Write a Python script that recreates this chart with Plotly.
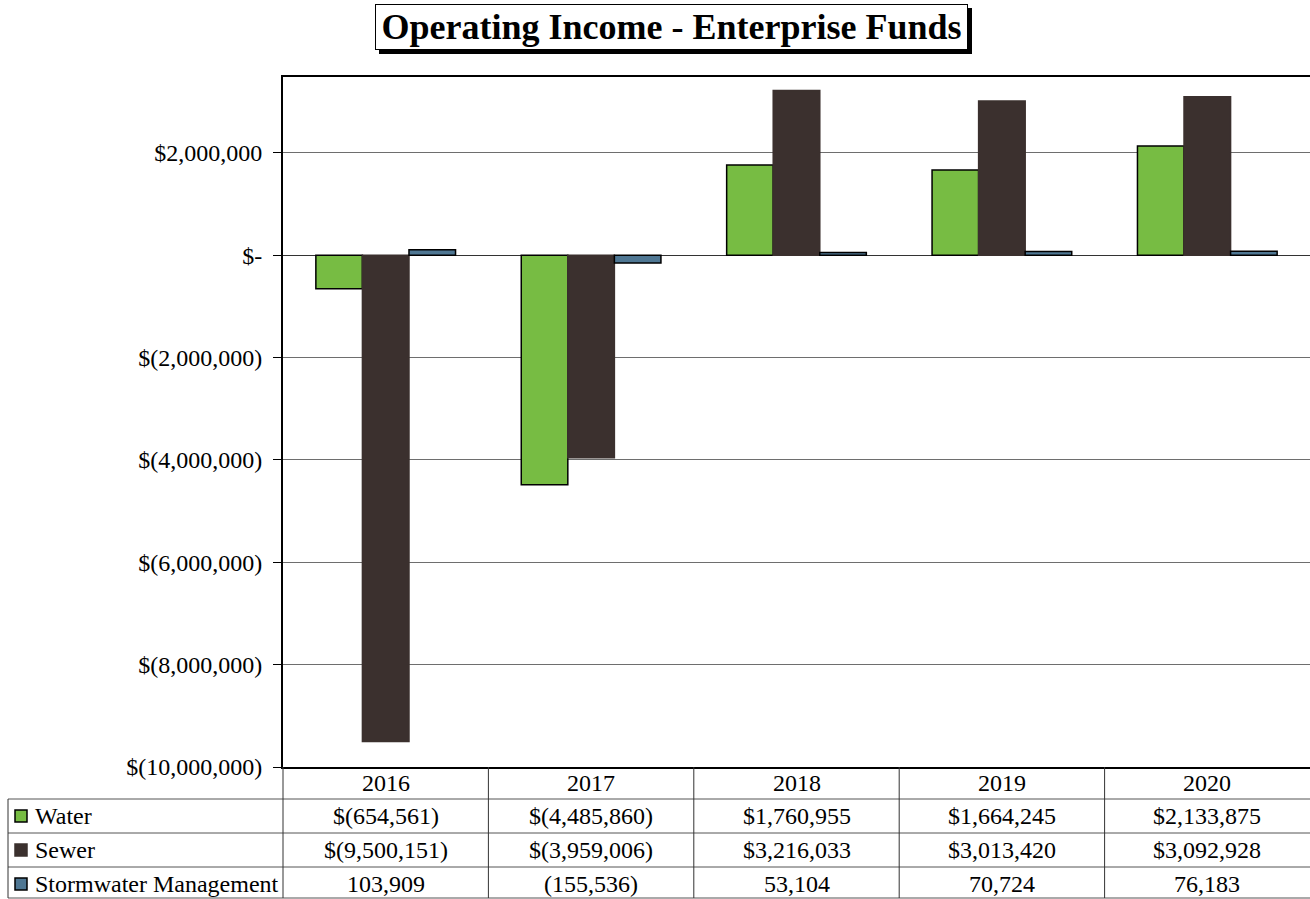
import plotly.graph_objects as go

# Fiscal years and operating income per fund
years = ["2016", "2017", "2018", "2019", "2020"]
water = [-654561, -4485860, 1760955, 1664245, 2133875]
sewer = [-9500151, -3959006, 3216033, 3013420, 3092928]
stormwater = [103909, -155536, 53104, 70724, 76183]

series_names = ["Water", "Sewer", "Stormwater Management"]
fills = ["#77bc43", "#3b302e", "#4f7793"]
outlines = ["#000000", "#3b302e", "#000000"]

y_tickvals = [2000000, 0, -2000000, -4000000, -6000000, -8000000, -10000000]
y_ticktext = ["$2,000,000", "$-", "$(2,000,000)", "$(4,000,000)",
              "$(6,000,000)", "$(8,000,000)", "$(10,000,000)"]

FONT = "Times New Roman, Liberation Serif, serif"
FS = 24
W, H = 1310, 899
L, R, T, B = 283, 0, 77, 132
PW, PH = W - L - R, H - T - B


def px_x(px):
    return (px - L) / PW


def px_y(py):
    return (H - B - py) / PH


def fmt(v, dollar):
    s = f"{abs(v):,}"
    pre = "$" if dollar else ""
    return f"{pre}({s})" if v < 0 else f"{pre}{s}"


fig = go.Figure()
all_series = [water, sewer, stormwater]
for name, vals, fc, lc in zip(series_names, all_series, fills, outlines):
    fig.add_trace(go.Bar(
        x=years, y=vals, name=name,
        marker=dict(color=fc, line=dict(color=lc, width=1.5)),
    ))

shapes = []
annotations = []

# Data table lines below the plot area
for py in [799, 833, 867, 898]:
    shapes.append(dict(type="line", xref="paper", yref="paper",
                       x0=px_x(8), x1=1, y0=px_y(py), y1=px_y(py),
                       line=dict(color="#555555", width=1)))
# column dividers at category boundaries
for k in range(len(years) - 1):
    xb = k + 0.5
    shapes.append(dict(type="line", xref="x", yref="paper",
                       x0=xb, x1=xb, y0=0, y1=px_y(898),
                       line=dict(color="#333333", width=1)))
# left edges of the table
shapes.append(dict(type="line", xref="paper", yref="paper",
                   x0=0, x1=0, y0=0, y1=px_y(898),
                   line=dict(color="#333333", width=1)))
shapes.append(dict(type="line", xref="paper", yref="paper",
                   x0=px_x(8), x1=px_x(8), y0=px_y(799), y1=px_y(898),
                   line=dict(color="#333333", width=1)))

row_centers = [816, 850, 884]
for r, (name, vals, fc, lc) in enumerate(zip(series_names, all_series, fills, outlines)):
    yc = px_y(row_centers[r])
    # legend key
    shapes.append(dict(type="rect", xref="paper", yref="paper",
                       x0=px_x(15), x1=px_x(27),
                       y0=yc - 6 / PH, y1=yc + 6 / PH,
                       fillcolor=fc, line=dict(color=lc, width=1.5)))
    annotations.append(dict(text=name, xref="paper", yref="paper",
                            x=px_x(33), y=yc, xanchor="left", yanchor="middle",
                            showarrow=False, font=dict(family=FONT, size=FS, color="black")))
    for k, v in enumerate(vals):
        annotations.append(dict(text=fmt(v, r < 2), xref="x", yref="paper",
                                x=k, y=yc, xanchor="center", yanchor="middle",
                                showarrow=False, font=dict(family=FONT, size=FS, color="black")))

# Year headers
for k, yr in enumerate(years):
    annotations.append(dict(text=yr, xref="x", yref="paper",
                            x=k, y=px_y(783), xanchor="center", yanchor="middle",
                            showarrow=False, font=dict(family=FONT, size=FS, color="black")))

# Title box with drop shadow
title_text = "<b>Operating Income - Enterprise Funds</b>"
tx, ty = px_x(671), px_y(27)
box_w, box_h = 587, 40
annotations.append(dict(text=" ", xref="paper", yref="paper", x=tx, y=ty,
                        xanchor="center", yanchor="middle",
                        xshift=4, yshift=-4, showarrow=False,
                        width=box_w, height=box_h,
                        bgcolor="black", bordercolor="black", borderwidth=1, borderpad=2))
annotations.append(dict(text=title_text, xref="paper", yref="paper", x=tx, y=ty,
                        xanchor="center", yanchor="middle", showarrow=False,
                        width=box_w, height=box_h,
                        font=dict(family=FONT, size=36, color="black"),
                        bgcolor="white", bordercolor="black", borderwidth=1, borderpad=2))

fig.update_layout(
    width=W, height=H,
    margin=dict(l=L, r=R, t=T, b=B, autoexpand=False),
    paper_bgcolor="white", plot_bgcolor="white",
    barmode="group", bargap=0.32, bargroupgap=0,
    showlegend=False,
    font=dict(family=FONT, size=FS, color="black"),
    shapes=shapes, annotations=annotations,
)
fig.update_xaxes(type="category", showticklabels=False, showline=True,
                 linecolor="black", linewidth=2, mirror=True, ticks="",
                 showgrid=False, range=[-0.5, 4.5])
fig.update_yaxes(range=[-10000000, 3480000], tickvals=y_tickvals, ticktext=y_ticktext,
                 showgrid=True, gridcolor="#6e6e6e", gridwidth=1,
                 zeroline=True, zerolinecolor="#333333", zerolinewidth=1,
                 showline=True, linecolor="black", linewidth=2,
                 ticks="outside", ticklen=8, tickcolor="black",
                 ticklabelstandoff=6,
                 tickfont=dict(family=FONT, size=FS, color="black"))

fig.write_html("out.html")
